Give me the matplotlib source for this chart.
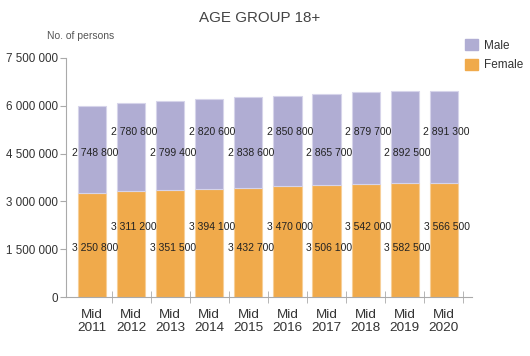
import numpy as np
import matplotlib.pyplot as plt
from matplotlib.patches import Patch

plt.rcParams['font.family'] = ['Liberation Sans', 'DejaVu Sans']

years = ['Mid\n2011', 'Mid\n2012', 'Mid\n2013', 'Mid\n2014', 'Mid\n2015',
         'Mid\n2016', 'Mid\n2017', 'Mid\n2018', 'Mid\n2019', 'Mid\n2020']
female = [3250800, 3311200, 3351500, 3394100, 3432700,
          3470000, 3506100, 3542000, 3582500, 3566500]
male = [2748800, 2780800, 2799400, 2820600, 2838600,
        2850800, 2865700, 2879700, 2892500, 2891300]
yticks = [0, 1500000, 3000000, 4500000, 6000000, 7500000]

male_col = '#b0add3'
female_col = '#f0aa4b'


def fmt(v):
    return '{:,}'.format(v).replace(',', ' ')


fig = plt.figure(figsize=(5.3, 3.56), dpi=100)
ax = fig.add_axes([66/530, 1-297/356, (472-66)/530, (297-58)/356])

x = np.arange(len(years))
ax.bar(x, female, width=0.72, color=female_col, edgecolor='#f7cf98', linewidth=0.8)
ax.bar(x, male, bottom=female, width=0.72, color=male_col, edgecolor='#d6d4ea', linewidth=0.8)

# value labels, staggered up/down
for i in range(len(x)):
    fy = 1.55e6 if i % 2 == 0 else 2.2e6
    my = 4.52e6 if i % 2 == 0 else 5.17e6
    ax.text(x[i] + 0.07, fy, fmt(female[i]), ha='center', va='center', fontsize=7.5, color='#222222')
    ax.text(x[i] + 0.07, my, fmt(male[i]), ha='center', va='center', fontsize=7.5, color='#222222')

ax.set_xlim(-0.665, 9.72)
ax.set_ylim(0, 7500000)
ax.set_yticks(yticks)
ax.set_yticklabels([fmt(v) for v in yticks], fontsize=8.4, color='#333333')
ax.set_xticks(x)
ax.set_xticklabels(years, fontsize=9.7, color='#333333', linespacing=1.1)
ax.set_xticks(x + 0.5, minor=True)
ax.tick_params(axis='x', which='major', length=0, pad=9)
ax.tick_params(axis='x', which='minor', length=8, direction='inout', color='#aaaaaa')
ax.tick_params(axis='y', length=4, color='#aaaaaa', pad=2)

for s in ['top', 'right']:
    ax.spines[s].set_visible(False)
for s in ['left', 'bottom']:
    ax.spines[s].set_color('#aaaaaa')

fig.text(260/530, 1-18/356, 'AGE GROUP 18+', ha='center', va='center', fontsize=10.9, color='#444444')
fig.text(47/530, 1-36/356, 'No. of persons', ha='left', va='center', fontsize=7.5, color='#555555')

handles = [Patch(color=male_col), Patch(color=female_col)]
fig.legend(handles, ['Male', 'Female'], loc='upper left', bbox_to_anchor=(465/530, 1-39/356),
           frameon=False, fontsize=8.5, handlelength=1.1, handleheight=1.1, handletextpad=0.5,
           labelspacing=0.6, borderpad=0, borderaxespad=0, labelcolor='#333333')

fig.savefig('out.png', dpi=100)
